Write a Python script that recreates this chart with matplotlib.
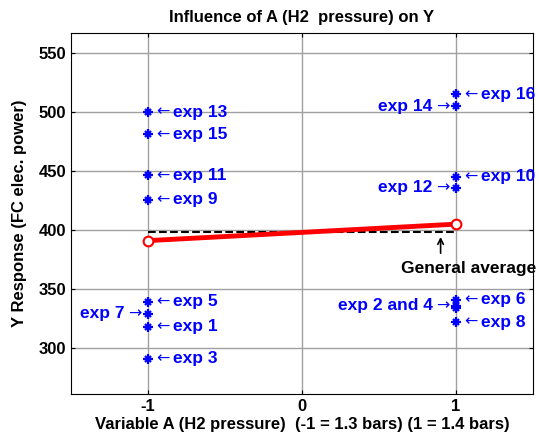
import matplotlib
matplotlib.use("Agg")
import matplotlib.pyplot as plt

plt.rcParams['font.family'] = ['Liberation Sans', 'DejaVu Sans']
plt.rcParams['font.weight'] = 'bold'
plt.rcParams['axes.unicode_minus'] = False

# data
levels = [-1, 1]
low_vals = [500, 481, 446.5, 425.5, 339, 329, 318, 291]
low_names = ["exp 13", "exp 15", "exp 11", "exp 9", "exp 5", "exp 7", "exp 1", "exp 3"]
low_side = ["r", "r", "r", "r", "r", "l", "r", "r"]
high_vals = [515, 505, 445, 436, 341, 336, 334, 322]
high_names = ["exp 16", "exp 14", "exp 10", "exp 12", "exp 6", "exp 2 and 4", None, "exp 8"]
high_side = ["r", "l", "r", "l", "r", "l", None, "r"]
means = [391, 405]
general_avg = 398
xticks = [-1, 0, 1]
yticks = [300, 350, 400, 450, 500, 550]

fig = plt.figure(figsize=(5.37, 4.45), dpi=100)
ax = fig.add_axes([0.132, 0.1146, 0.8606, 0.8112])

ax.set_xlim(-1.5, 1.5)
ax.set_ylim(261, 567)
ax.set_xticks(xticks)
ax.set_yticks(yticks)
ax.grid(True, color='#a0a0a0', linewidth=1.0)
ax.set_axisbelow(True)
ax.tick_params(direction='in', top=True, right=True, labelsize=12, length=3)
for lab in ax.get_xticklabels() + ax.get_yticklabels():
    lab.set_fontweight('bold')

blue = '#0000ff'
for lv, vals in ((levels[0], low_vals), (levels[1], high_vals)):
    ax.plot([lv] * len(vals), vals, ls='none', marker='+', color=blue, ms=7, mew=1.6, zorder=3)
    ax.plot([lv] * len(vals), vals, ls='none', marker='x', color=blue, ms=5, mew=1.6, zorder=3)

FS = 12.5
AFS = 11.5


def label(x, y, name, side):
    if name is None:
        return
    if side == 'r':
        ax.annotate("\u2190", (x, y), xytext=(6, 0), textcoords='offset points',
                    family='DejaVu Sans', fontweight='normal', fontsize=AFS, color=blue,
                    ha='left', va='center', zorder=4)
        ax.annotate(name, (x, y), xytext=(18, 0), textcoords='offset points',
                    fontsize=FS, fontweight='bold', color=blue, ha='left', va='center', zorder=4)
    else:
        ax.annotate("\u2192", (x, y), xytext=(-5, 0), textcoords='offset points',
                    family='DejaVu Sans', fontweight='normal', fontsize=AFS, color=blue,
                    ha='right', va='center', zorder=4)
        ax.annotate(name, (x, y), xytext=(-17, 0), textcoords='offset points',
                    fontsize=FS, fontweight='bold', color=blue, ha='right', va='center', zorder=4)


for v, n, s in zip(low_vals, low_names, low_side):
    label(levels[0], v, n, s)
for v, n, s in zip(high_vals, high_names, high_side):
    label(levels[1], v, n, s)

ax.plot(levels, [general_avg, general_avg], color='black', ls='--', lw=1.5, zorder=3)
ax.plot(levels, means, color='red', lw=3.5, marker='o', ms=7, mfc='white', mec='red', mew=1.5, zorder=4)

ax.annotate("", xy=(0.90, general_avg - 1.5), xytext=(0.90, 378),
            arrowprops=dict(arrowstyle='->', color='black', lw=1.2), zorder=5)
ax.text(1.08, 374, "General average", ha='center', va='top', fontsize=FS,
        fontweight='bold', color='black', zorder=5)

ax.set_title("Influence of A (H2  pressure) on Y", fontsize=12, fontweight='bold', pad=8)
ax.set_xlabel("Variable A (H2 pressure)  (-1 = 1.3 bars) (1 = 1.4 bars)", fontsize=12, fontweight='bold', labelpad=2)
ax.set_ylabel("Y Response (FC elec. power)", fontsize=12, fontweight='bold', labelpad=8)

fig.savefig("out.png", dpi=100)
